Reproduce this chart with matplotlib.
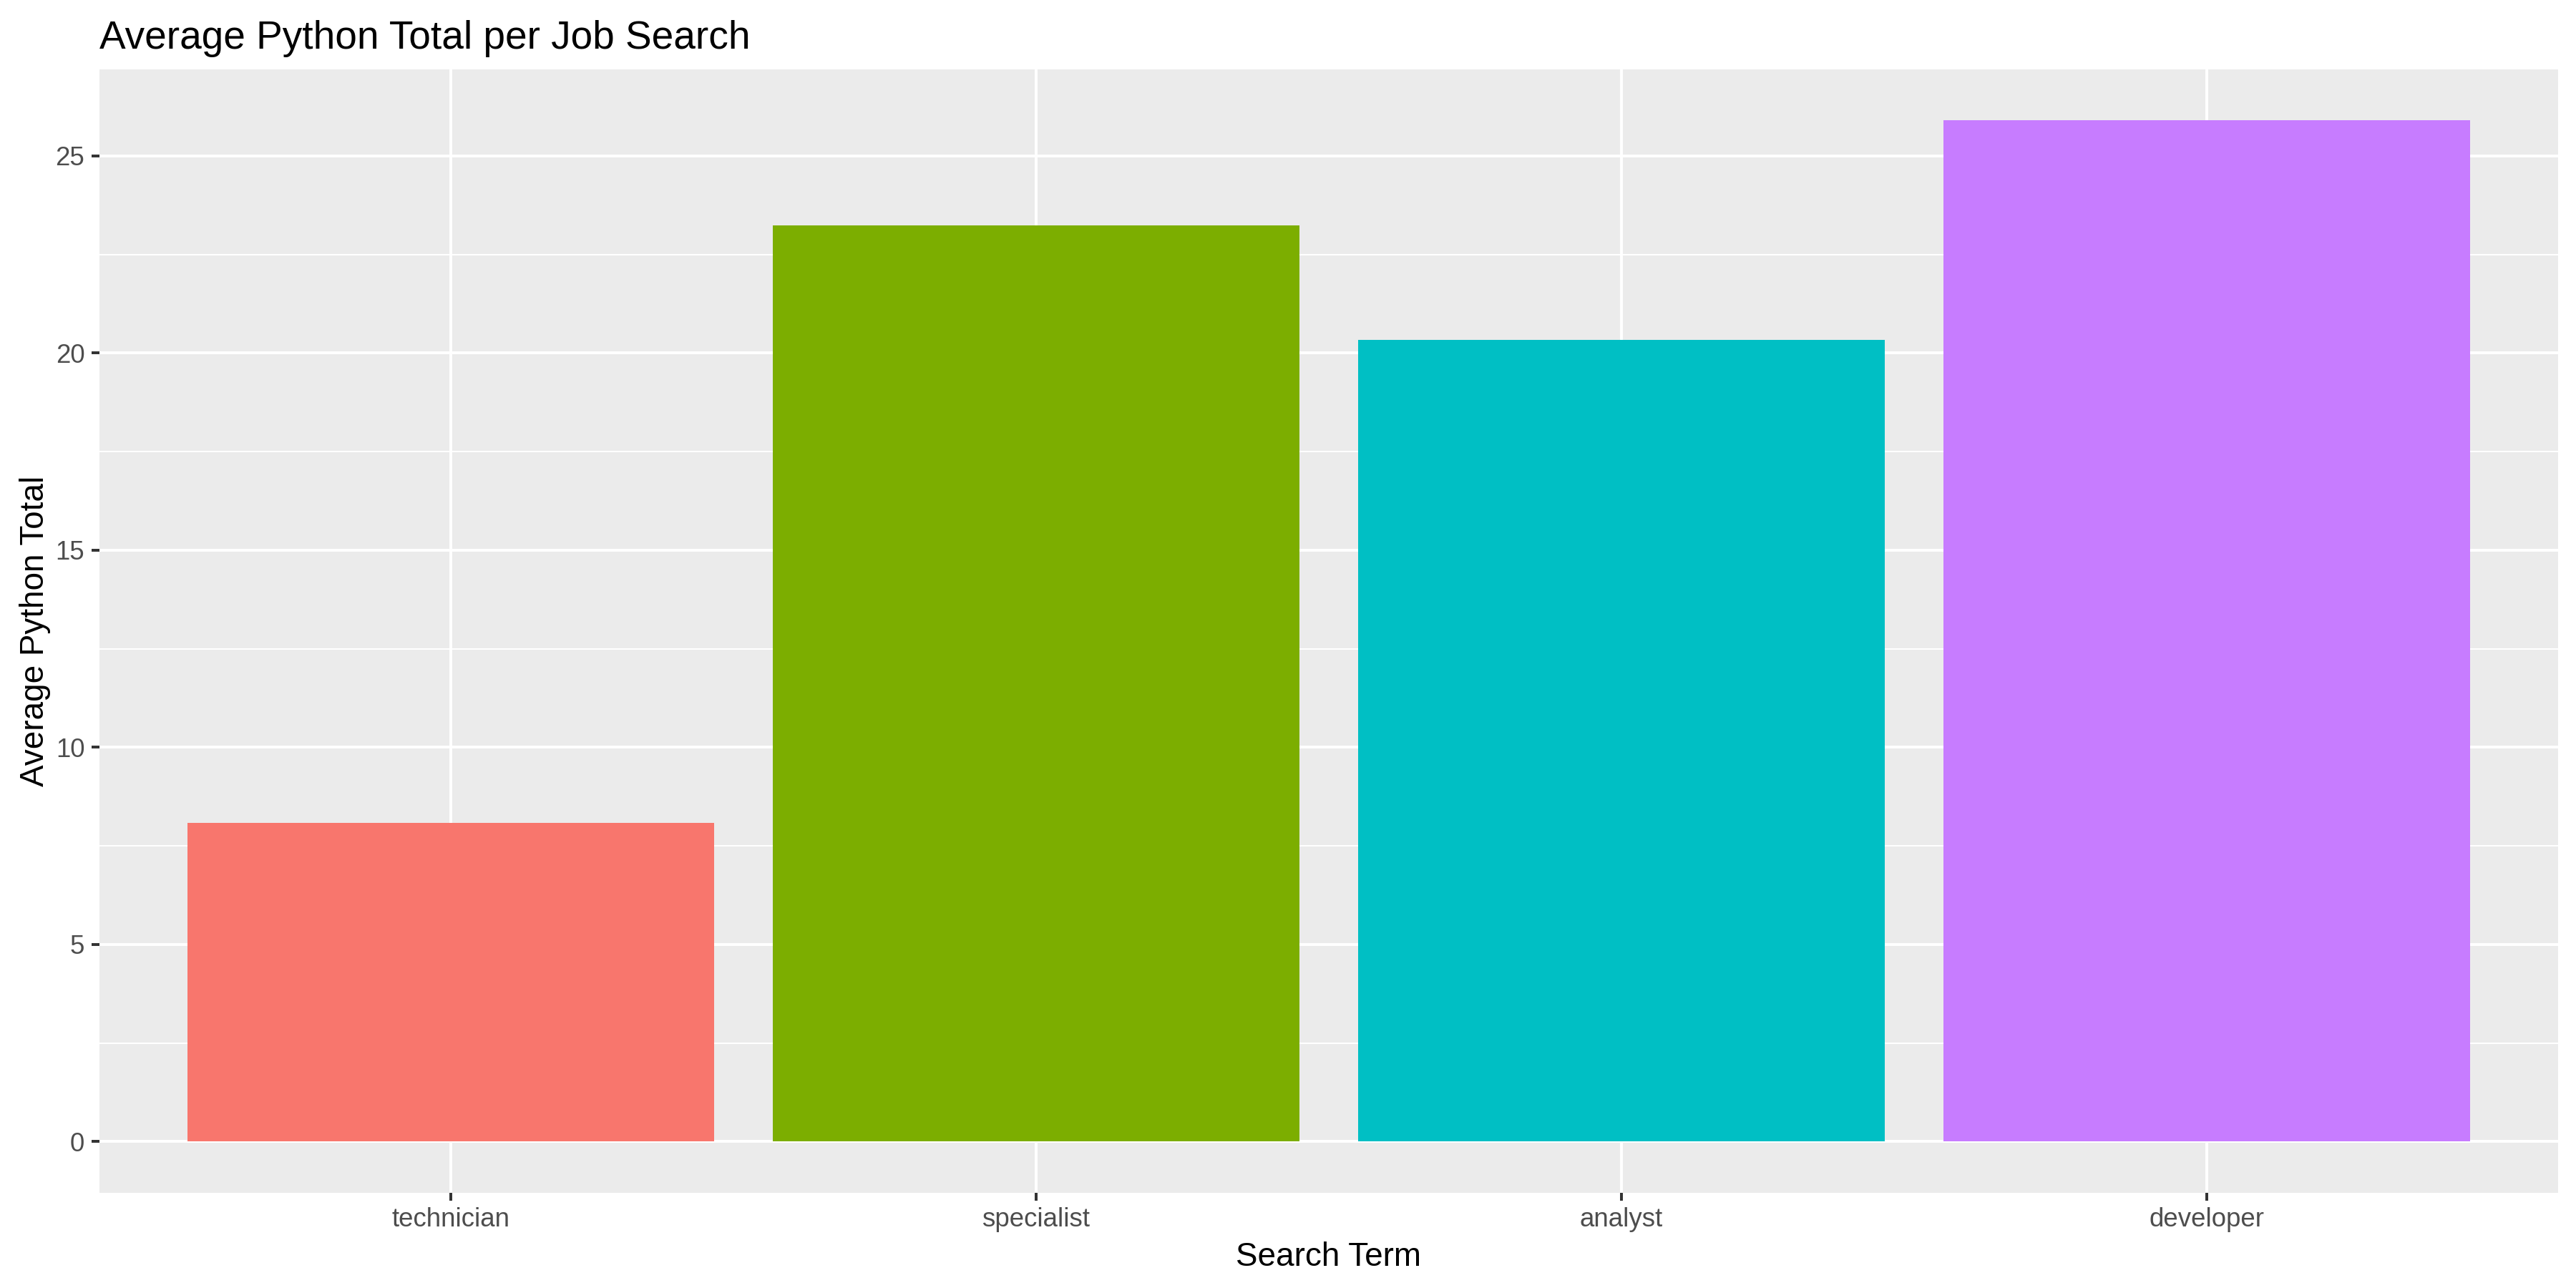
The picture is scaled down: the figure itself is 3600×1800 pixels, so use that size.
import numpy as np
import matplotlib
matplotlib.use("Agg")
import matplotlib.pyplot as plt
from matplotlib.ticker import MultipleLocator

# data
search_terms = ["technician", "specialist", "analyst", "developer"]
avg_python_total = [8.08, 23.23, 20.33, 25.90]
bar_colors = ["#F8766D", "#7CAE00", "#00BFC4", "#C77CFF"]

plt.rcParams["font.family"] = ["Liberation Sans", "DejaVu Sans"]


def main():
    fig = plt.figure(figsize=(12, 6), dpi=300)
    ax = fig.add_axes([0.0386, 0.0741, 0.9544, 0.8720])

    x = np.arange(1, len(search_terms) + 1)
    ax.bar(x, avg_python_total, width=0.9, color=bar_colors, zorder=3)

    # ggplot-ish panel
    ax.set_facecolor("#EBEBEB")
    for side in ax.spines.values():
        side.set_visible(False)
    ax.set_xlim(0.4, 4.6)
    top = max(avg_python_total)
    ax.set_ylim(-0.05 * top, top * 1.05)
    ax.yaxis.set_major_locator(MultipleLocator(5))
    ax.yaxis.set_minor_locator(MultipleLocator(2.5))
    ax.set_xticks(x)
    ax.set_xticklabels(search_terms)

    ax.grid(True, which="major", color="white", linewidth=0.95, zorder=0)
    ax.grid(True, which="minor", axis="y", color="white", linewidth=0.5, zorder=0)
    ax.set_axisbelow(True)

    ax.tick_params(which="major", length=2.75, width=0.95, color="#333333",
                   labelsize=8.8, labelcolor="#4D4D4D", pad=2.2)
    ax.tick_params(which="minor", length=0)

    ax.set_xlabel("Search Term", fontsize=11, color="black", labelpad=3)
    ax.set_ylabel("Average Python Total", fontsize=11, color="black", labelpad=1.5)
    ax.set_title("Average Python Total per Job Search", fontsize=13.2,
                 loc="left", color="black", pad=7)

    fig.savefig("out.png", dpi=300)


if __name__ == "__main__":
    main()
